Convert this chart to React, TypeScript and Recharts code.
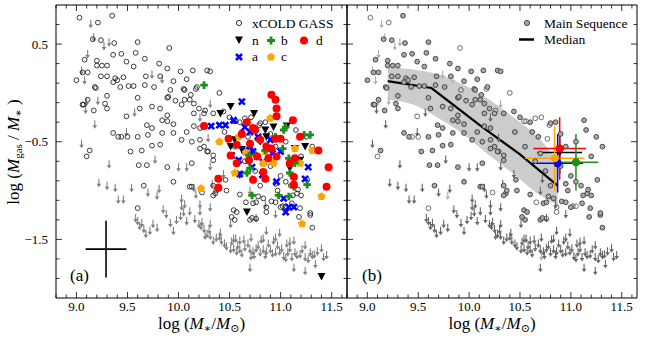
import { ComposedChart, Scatter, XAxis, YAxis, Area, Line, ErrorBar } from "recharts";

const SERIF = '"Liberation Serif", "DejaVu Serif", serif';

const X_DOMAIN: [number, number] = [8.8, 11.65];
const Y_DOMAIN: [number, number] = [-2.1, 0.9];
const X_TICKS = [
  8.8, 8.9, 9.0, 9.1, 9.2, 9.3, 9.4, 9.5, 9.6, 9.7, 9.8, 9.9, 10.0, 10.1, 10.2, 10.3, 10.4,
  10.5, 10.6, 10.7, 10.8, 10.9, 11.0, 11.1, 11.2, 11.3, 11.4, 11.5, 11.6,
];
const X_LABELED = [9.0, 9.5, 10.0, 10.5, 11.0, 11.5];
const Y_TICKS = [0.7, 0.5, 0.3, 0.1, -0.1, -0.3, -0.5, -0.7, -0.9, -1.1, -1.3, -1.5, -1.7, -1.9];
const Y_LABELED = [0.5, -0.5, -1.5];

// xCOLD GASS detections on the main sequence (filled in panel b)
const gassMS: [number, number][] = [
  [9.35, 0.79], [9.16, 0.55], [9.24, 0.54], [9.37, 0.51], [9.6, 0.52],
  [9.08, 0.34], [9.2, 0.33], [9.36, 0.39], [9.44, 0.4], [9.58, 0.41], [9.67, 0.35], [9.49, 0.32],
  [9.56, 0.27], [9.81, 0.3], [9.89, 0.25], [10.02, 0.22], [10.14, 0.23], [10.28, 0.23], [10.31, 0.22],
  [9.0, 0.13], [9.06, 0.21], [9.11, 0.21], [9.2, 0.28], [9.25, 0.28], [9.3, 0.28], [9.24, 0.17],
  [9.3, 0.17], [9.38, 0.15], [9.4, 0.13], [9.46, 0.16], [9.36, 0.11], [9.43, 0.06], [9.51, 0.07],
  [9.56, 0.07], [9.67, 0.08], [9.68, 0.17], [9.76, 0.06], [9.82, 0.17], [10.05, 0.04], [10.06, 0.03],
  [10.08, 0.14], [9.95, 0.12], [9.18, 0.06], [9.19, 0.05],
  [9.06, -0.12], [9.07, -0.12], [9.11, -0.07], [9.3, -0.03], [9.17, -0.18], [9.28, -0.11], [9.3, -0.16],
  [9.6, -0.05], [9.62, -0.16], [9.74, -0.14], [9.82, -0.16], [9.89, -0.05], [9.9, -0.04], [9.97, -0.08],
  [10.03, -0.12], [10.06, -0.07], [10.11, -0.07], [10.12, -0.02], [10.15, -0.11], [10.15, -0.21],
  [10.2, -0.16], [10.25, -0.21],
  [9.36, -0.41], [9.41, -0.45], [9.6, -0.45], [9.69, -0.33], [9.74, -0.36], [9.7, -0.43], [9.84, -0.28],
  [9.89, -0.29], [9.89, -0.23], [9.95, -0.32], [9.84, -0.41], [9.95, -0.41], [10.15, -0.34], [10.08, -0.4],
  [10.03, -0.48], [9.82, -0.53], [9.74, -0.54], [9.64, -0.59], [9.53, -0.6], [10.21, -0.36], [10.21, -0.48],
  [10.25, -0.55], [10.29, -0.6], [10.34, -0.64], [9.13, -0.59], [9.61, -0.74], [9.69, -0.74], [9.89, -0.76],
  [10.13, -0.72],
  [9.66, -0.95], [9.95, -0.91], [10.11, -0.96], [10.13, -0.96], [10.34, -0.95], [10.36, -1.03], [10.37, -1.0],
  [10.54, -1.2], [10.55, -1.3], [10.7, -1.3], [10.72, -1.28], [10.73, -1.13], [10.76, -1.12], [10.47, -1.0],
  [10.6, -1.04], [10.83, -1.08], [10.91, -1.11], [10.95, -0.93], [11.05, -0.91], [11.16, -1.03],
  [11.18, -1.27], [11.29, -1.25], [11.31, -1.38], [11.11, -1.13], [11.19, -1.18],
  [10.18, 0.06], [10.44, -0.19], [10.34, -0.21], [10.13, -0.5], [10.21, -0.57], [10.28, -0.6], [10.34, -0.69],
  [10.46, -0.89], [10.34, -1.05], [10.52, -1.27], [10.78, -1.06], [10.8, -0.31], [11.13, -0.28], [11.15, -0.38],
  [11.31, -0.55], [11.26, -0.89], [11.29, -1.23], [11.0, -1.17], [10.57, -1.22],
  [10.6, -0.3], [10.62, -0.4], [10.68, -0.45], [10.85, -0.3], [10.9, -0.42], [10.95, -0.55], [11.05, -0.5],
  [10.55, -0.55], [10.65, -0.7], [10.75, -0.8], [10.9, -0.75], [11.0, -0.85], [11.1, -0.95], [10.8, -0.95],
  [10.7, -0.62], [11.2, -0.65], [11.25, -0.45], [10.45, -0.4], [10.5, -0.25], [11.17, -0.99], [11.2, -1.05],
  [11.12, -1.05], [10.95, -1.12], [10.97, -1.0],
];

// xCOLD GASS detections off the main sequence (open in panel b)
const gassOther: [number, number][] = [
  [9.03, 0.77], [9.21, 0.72], [9.91, 0.46], [9.92, 0.03], [10.17, 0.04], [10.4, 0.0], [9.49, -0.24],
  [9.44, -0.45], [9.5, -0.45], [10.26, -0.18], [10.54, -0.29], [10.56, -0.29], [10.65, -0.26],
  [10.71, -0.25], [10.79, -0.33], [10.77, -0.47], [9.1, -0.65], [9.6, -1.18], [10.23, -1.02],
  [10.66, -1.12], [10.86, -1.17], [10.86, -1.22], [10.76, -1.29], [11.02, -1.16], [11.05, -1.16],
];

// upper limits (arrows), main sequence
const limMS: [number, number][] = [
  [9.09, -0.13], [9.18, -0.28], [9.05, -0.48], [9.32, -0.69], [9.57, -0.16], [9.49, -0.36], [9.77, -0.64],
  [10.21, -0.21], [10.29, -0.42], [10.0, -0.72], [10.08, -0.72], [10.31, -0.71],
  [9.22, -0.88], [9.3, -0.91], [9.38, -0.93], [9.54, -0.93], [9.41, -1.05], [9.46, -1.05], [9.81, -0.94],
  [9.7, -0.98], [9.62, -1.32], [9.66, -1.35], [9.72, -1.37], [9.6, -1.27], [9.79, -1.34], [9.85, -1.15],
  [9.92, -1.29], [9.95, -1.37], [10.02, -1.22], [10.03, -1.12], [10.06, -1.1], [10.11, -1.17], [10.15, -0.93],
  [10.2, -1.3], [10.23, -1.28], [10.25, -1.35], [10.31, -1.3], [10.31, -1.42], [10.37, -1.44], [10.42, -1.47],
  [10.47, -1.53], [10.51, -1.56], [10.54, -1.55], [10.57, -1.58], [10.6, -1.56], [10.65, -1.54], [10.7, -1.56],
  [10.73, -1.58], [10.76, -1.55], [10.8, -1.59], [10.83, -1.56], [10.86, -1.58], [10.9, -1.56], [10.95, -1.59],
  [10.99, -1.58], [11.03, -1.63], [11.07, -1.59], [11.11, -1.64], [11.14, -1.59], [11.19, -1.61],
  [11.24, -1.64], [11.29, -1.59], [11.34, -1.71], [11.42, -1.64], [10.7, -1.75], [11.13, -1.75],
  [11.24, -1.78], [11.33, -1.61], [10.28, -1.4], [10.34, -1.47], [10.54, -1.45], [10.6, -1.47], [10.71, -1.44],
  [10.83, -1.45], [10.93, -1.47], [11.09, -1.48], [10.41, -1.39], [10.03, -1.04], [10.08, -1.27],
  [10.21, -1.17], [10.51, -1.3], [10.76, -1.24], [10.86, -1.37], [10.99, -1.39], [10.21, -1.1], [10.31, -1.13],
  [10.33, -0.89], [10.17, -1.0], [10.7, -0.96], [10.44, -0.79], [10.85, -1.1], [10.95, -1.2], [10.72, -0.84],
  [10.45, -1.5], [10.52, -1.48], [10.58, -1.52], [10.62, -1.6], [10.68, -1.5], [10.74, -1.62], [10.78, -1.52],
  [10.85, -1.62], [10.88, -1.5], [10.92, -1.6], [10.97, -1.52], [11.01, -1.55], [11.05, -1.65], [11.09, -1.55],
  [11.16, -1.62], [11.21, -1.56], [11.27, -1.66], [11.31, -1.62], [11.36, -1.58], [10.4, -1.43], [10.3, -1.36],
  [10.22, -1.32], [10.16, -1.25], [10.05, -1.18], [9.98, -1.26], [9.88, -1.2], [9.64, -1.29], [9.58, -1.24],
  [9.68, -1.4], [9.75, -1.3], [10.26, -1.42], [10.56, -1.45], [10.64, -1.46], [10.81, -1.46], [10.95, -1.44],
  [11.06, -1.5], [11.13, -1.47], [11.24, -1.52], [11.4, -1.55], [11.45, -1.62],
];

// upper limits, off the main sequence
const limOther: [number, number][] = [
  [9.14, 0.75], [9.17, 0.61], [9.27, 0.52], [9.32, 0.56], [9.11, 0.44], [9.05, 0.27], [9.08, 0.17],
  [9.74, 0.23], [9.84, 0.18], [9.1, -0.05], [9.21, -0.04], [9.79, -1.01], [10.71, -1.63], [10.31, -0.07],
];

// subsamples
const subN: [number, number][] = [
  [10.51, -0.14], [10.41, -0.21], [10.74, -0.21], [10.93, -0.35], [11.06, -0.34], [10.85, -0.38],
  [10.51, -0.55], [11.14, -0.57], [11.24, -0.55], [11.19, -0.69], [10.55, -0.48], [10.8, -0.5],
  [10.6, -0.84], [11.09, -0.77], [10.67, -1.22], [11.4, -1.88], [10.62, -0.58], [10.86, -0.45],
];
const subA: [number, number][] = [
  [10.62, -0.09], [10.54, -0.28], [10.4, -0.33], [10.32, -0.34], [10.65, -0.35], [10.46, -0.33],
  [10.7, -0.4], [10.9, -0.48], [10.65, -0.59], [10.73, -0.6], [10.59, -0.69], [11.0, -0.6], [10.72, -0.76],
  [10.83, -0.71], [11.27, -0.76], [11.24, -0.88], [10.96, -0.91], [11.03, -1.08], [11.08, -1.17],
  [11.13, -1.17], [10.7, -0.55], [10.52, -0.64], [10.82, -0.84], [10.92, -0.62], [11.05, -1.22],
  [10.6, -0.83], [10.78, -0.45],
];
const subB: [number, number][] = [
  [10.25, 0.08], [11.05, -0.35], [11.23, -0.43], [11.29, -0.43], [11.02, -0.57], [10.69, -0.64],
  [10.85, -0.59], [11.03, -0.38], [11.08, -0.67], [11.14, -0.72], [11.09, -0.82], [10.7, -0.77],
  [10.67, -0.82], [11.13, -0.96], [11.26, -0.94], [10.72, -1.05], [10.98, -1.05], [11.08, -1.06],
  [10.76, -0.64], [11.12, -0.94], [10.95, -0.45],
];
const subC: [number, number][] = [
  [10.4, -0.5], [10.59, -0.45], [11.31, -0.59], [10.9, -0.26], [10.66, -0.61], [10.83, -0.72],
  [10.93, -0.72], [10.55, -0.82], [10.85, -0.6], [11.14, -0.57], [11.19, -0.72], [11.4, -1.06],
  [10.22, -0.98], [11.21, -1.34],
];
const subD: [number, number][] = [
  [10.91, -0.02], [10.95, -0.07], [10.96, -0.16], [10.96, -0.24], [11.12, -0.28], [10.25, -0.34],
  [10.67, -0.3], [10.73, -0.36], [10.49, -0.47], [10.57, -0.53], [10.8, -0.48], [11.37, -0.59],
  [11.47, -0.76], [10.75, -0.38], [10.7, -0.52], [10.86, -0.55], [10.91, -0.57], [10.95, -0.47],
  [11.0, -0.47], [11.19, -0.45], [11.45, -0.96], [10.39, -0.88], [10.51, -0.64], [10.57, -0.72],
  [10.77, -0.65], [10.69, -0.69], [10.88, -0.67], [10.96, -0.65], [11.13, -0.86], [11.14, -0.67],
  [10.73, -0.89], [11.09, -0.72], [10.39, -0.97], [11.13, -0.94], [10.83, -0.81], [10.62, -0.42],
  [10.85, -0.88],
];

// typical uncertainty, panel (a)
const typicalErr = [{ x: 9.29, y: -1.6, ex: 0.2, ey: 0.29 }];

// panel (b): median of the main sequence and its spread
const medianX = [9.2, 9.63, 10.13, 10.5, 10.87];
const medianY = [0.12, 0.05, -0.35, -0.63, -0.95];
const bandX = [9.2, 9.45, 9.7, 9.95, 10.2, 10.45, 10.7, 10.87];
const bandHi = [0.26, 0.24, 0.19, 0.08, -0.07, -0.26, -0.48, -0.7];
const bandLo = [-0.07, -0.12, -0.26, -0.43, -0.64, -0.84, -1.05, -1.15];

// panel (b): subsample medians with spread
const binNames = ["n", "a", "c", "d", "b"];
const binX = [10.89, 10.87, 10.84, 10.89, 11.05];
const binY = [-0.61, -0.72, -0.67, -0.57, -0.71];
const binEx = [0.22, 0.25, 0.29, 0.26, 0.22];
const binEy = [0.22, 0.3, 0.33, 0.32, 0.29];

const COLORS: Record<string, string> = {
  n: "#000000",
  a: "#0000ff",
  b: "#1a8f1a",
  c: "#ffa500",
  d: "#ff0000",
};

const pts = (arr: [number, number][]) => arr.map(([x, y]) => ({ x, y }));
const fmt = (v: number) => v.toFixed(1).replace("-", "\u2212");
const inList = (v: number, list: number[]) => list.some((l) => Math.abs(l - v) < 1e-6);

function pentagon(cx: number, cy: number, r: number) {
  let d = "";
  for (let i = 0; i < 5; i++) {
    const a = -Math.PI / 2 + (i * 2 * Math.PI) / 5;
    d += (i ? "L" : "M") + (cx + r * Math.cos(a)).toFixed(2) + "," + (cy + r * Math.sin(a)).toFixed(2);
  }
  return d + "Z";
}

const OpenDot = (p: any) => (
  <circle cx={p.cx} cy={p.cy} r={2.4} fill="none" stroke="#1a1a1a" strokeWidth={0.85} />
);
const GrayDot = (p: any) => (
  <circle cx={p.cx} cy={p.cy} r={2.4} fill="#a8a8a8" stroke="#3a3a3a" strokeWidth={0.9} />
);
const LightDot = (p: any) => (
  <circle cx={p.cx} cy={p.cy} r={2.4} fill="none" stroke="#555" strokeWidth={0.85} />
);
const arrowShape = (color: string) => (p: any) => (
  <g>
    <line x1={p.cx} x2={p.cx} y1={p.cy} y2={p.cy + 6} stroke={color} strokeWidth={1.1} />
    <path d={`M${p.cx - 2.3},${p.cy + 5}L${p.cx + 2.3},${p.cy + 5}L${p.cx},${p.cy + 8.5}Z`} fill={color} />
  </g>
);
const Tri = (p: any) => (
  <path d={`M${p.cx - 4},${p.cy - 3.5}L${p.cx + 4},${p.cy - 3.5}L${p.cx},${p.cy + 4}Z`} fill="#000" />
);
const Cross = (p: any) => (
  <path
    d={`M${p.cx - 3},${p.cy - 3}L${p.cx + 3},${p.cy + 3}M${p.cx + 3},${p.cy - 3}L${p.cx - 3},${p.cy + 3}`}
    stroke={COLORS.a}
    strokeWidth={2.6}
  />
);
const Plus = (p: any) => (
  <path
    d={`M${p.cx - 3.8},${p.cy}H${p.cx + 3.8}M${p.cx},${p.cy - 3.8}V${p.cy + 3.8}`}
    stroke={COLORS.b}
    strokeWidth={2.8}
  />
);
const Pent = (p: any) => <path d={pentagon(p.cx, p.cy, 4.3)} fill={COLORS.c} />;
const RedDot = (p: any) => <circle cx={p.cx} cy={p.cy} r={4} fill={COLORS.d} />;
const NoMark = () => <g />;

function BottomTick({ x, y, payload }: any) {
  const major = inList(payload.value, X_LABELED);
  return (
    <g>
      <line x1={x} x2={x} y1={y} y2={y - (major ? 6 : 3.5)} stroke="#000" strokeWidth={0.8} />
      {major && (
        <text x={x} y={y + 13} textAnchor="middle" fontSize={13} fontFamily={SERIF} fill="#000">
          {fmt(payload.value)}
        </text>
      )}
    </g>
  );
}
function TopTick({ x, y, payload }: any) {
  const major = inList(payload.value, X_LABELED);
  return <line x1={x} x2={x} y1={y} y2={y + (major ? 6 : 3.5)} stroke="#000" strokeWidth={0.8} />;
}
const leftTick = (labels: boolean) => ({ x, y, payload }: any) => {
  const major = inList(payload.value, Y_LABELED);
  return (
    <g>
      <line x1={x} x2={x + (major ? 6 : 3.5)} y1={y} y2={y} stroke="#000" strokeWidth={0.8} />
      {labels && major && (
        <text x={x - 8} y={y + 4.5} textAnchor="end" fontSize={13} fontFamily={SERIF} fill="#000">
          {fmt(payload.value)}
        </text>
      )}
    </g>
  );
};
function RightTick({ x, y, payload }: any) {
  const major = inList(payload.value, Y_LABELED);
  return <line x1={x} x2={x - (major ? 6 : 3.5)} y1={y} y2={y} stroke="#000" strokeWidth={0.8} />;
}

function Frame({ leftLabels }: { leftLabels: boolean }) {
  const axisLine = { stroke: "#000", strokeWidth: 1 };
  return [
    <XAxis
      key="xb"
      xAxisId="b"
      type="number"
      dataKey="x"
      domain={X_DOMAIN}
      ticks={X_TICKS}
      interval={0}
      allowDataOverflow
      height={42}
      tickSize={0}
      tickMargin={0}
      tickLine={false}
      axisLine={axisLine}
      tick={BottomTick}
    />,
    <XAxis
      key="xt"
      xAxisId="t"
      orientation="top"
      type="number"
      dataKey="x"
      domain={X_DOMAIN}
      ticks={X_TICKS}
      interval={0}
      allowDataOverflow
      height={1}
      tickSize={0}
      tickMargin={0}
      tickLine={false}
      axisLine={axisLine}
      tick={TopTick}
    />,
    <YAxis
      key="yl"
      yAxisId="l"
      type="number"
      dataKey="y"
      domain={Y_DOMAIN}
      ticks={Y_TICKS}
      interval={0}
      allowDataOverflow
      width={leftLabels ? 56 : 50}
      tickSize={0}
      tickMargin={0}
      tickLine={false}
      axisLine={axisLine}
      tick={leftTick(leftLabels)}
    />,
    <YAxis
      key="yr"
      yAxisId="r"
      orientation="right"
      type="number"
      dataKey="y"
      domain={Y_DOMAIN}
      ticks={Y_TICKS}
      interval={0}
      allowDataOverflow
      width={1}
      tickSize={0}
      tickMargin={0}
      tickLine={false}
      axisLine={axisLine}
      tick={RightTick}
    />,
  ];
}

const sc = { xAxisId: "b", yAxisId: "l", isAnimationActive: false };

function PanelA() {
  const allGass = pts([...gassMS, ...gassOther]);
  const allLim = pts([...limMS, ...limOther]);
  return (
    <ComposedChart width={351} height={340} margin={{ top: 4, right: 3, bottom: 0, left: 0 }}>
      {Frame({ leftLabels: true })}
      <Scatter {...sc} data={allLim} shape={arrowShape("#808080")} />
      <Scatter {...sc} data={allGass} shape={OpenDot} />
      <Scatter {...sc} data={pts(subN)} shape={Tri} />
      <Scatter {...sc} data={pts(subA)} shape={Cross} />
      <Scatter {...sc} data={pts(subC)} shape={Pent} />
      <Scatter {...sc} data={pts(subB)} shape={Plus} />
      <Scatter {...sc} data={pts(subD)} shape={RedDot} />
      <Scatter {...sc} data={typicalErr} shape={NoMark}>
        <ErrorBar dataKey="ex" direction="x" width={0} stroke="#000" strokeWidth={1.6} />
        <ErrorBar dataKey="ey" direction="y" width={0} stroke="#000" strokeWidth={1.6} />
      </Scatter>
    </ComposedChart>
  );
}

function PanelB() {
  const band = bandX.map((x, i) => ({ x, range: [bandLo[i], bandHi[i]] }));
  const median = medianX.map((x, i) => ({ x, y: medianY[i] }));
  return (
    <ComposedChart width={344} height={340} margin={{ top: 4, right: 3, bottom: 0, left: 0 }}>
      {Frame({ leftLabels: false })}
      <Area
        {...sc}
        data={band}
        dataKey="range"
        type="monotone"
        fill="#cccccc"
        fillOpacity={1}
        stroke="none"
      />
      <Scatter {...sc} data={pts(limOther)} shape={arrowShape("#b0b0b0")} />
      <Scatter {...sc} data={pts(limMS)} shape={arrowShape("#666666")} />
      <Scatter {...sc} data={pts(gassOther)} shape={LightDot} />
      <Scatter {...sc} data={pts(gassMS)} shape={GrayDot} />
      <Line {...sc} data={median} dataKey="y" type="linear" stroke="#000" strokeWidth={2.2} dot={false} />
      {binNames.map((n, i) => (
        <Scatter
          key={n}
          {...sc}
          data={[{ x: binX[i], y: binY[i], ex: binEx[i], ey: binEy[i] }]}
          shape={(p: any) =>
            n === "n" ? (
              <path d={`M${p.cx - 4},${p.cy - 3.5}L${p.cx + 4},${p.cy - 3.5}L${p.cx},${p.cy + 4}Z`} fill="#000" />
            ) : (
              <circle cx={p.cx} cy={p.cy} r={4} fill={COLORS[n]} />
            )
          }
        >
          <ErrorBar dataKey="ex" direction="x" width={0} stroke={COLORS[n]} strokeWidth={1.5} />
          <ErrorBar dataKey="ey" direction="y" width={0} stroke={COLORS[n]} strokeWidth={1.5} />
        </Scatter>
      ))}
    </ComposedChart>
  );
}

function Overlay() {
  const t = { fontFamily: SERIF, fill: "#000" };
  return (
    <svg width={645} height={340} style={{ position: "absolute", left: 0, top: 0, pointerEvents: "none" }}>
      {/* legend (a) */}
      <circle cx={239} cy={23} r={2.6} fill="none" stroke="#1a1a1a" strokeWidth={0.9} />
      <text x={252} y={28} fontSize={13.5} {...t}>xCOLD GASS</text>
      <path d="M235,36.5L243,36.5L239,44Z" fill="#000" />
      <text x={252} y={44.5} fontSize={13.5} {...t}>n</text>
      <path d="M267,40.5H275M271,36.5V44.5" stroke={COLORS.b} strokeWidth={2.8} />
      <text x={281} y={44.5} fontSize={13.5} {...t}>b</text>
      <circle cx={304} cy={40.5} r={4} fill={COLORS.d} />
      <text x={316} y={44.5} fontSize={13.5} {...t}>d</text>
      <path d="M236,54L242,60M242,54L236,60" stroke={COLORS.a} strokeWidth={2.6} />
      <text x={252} y={61} fontSize={13.5} {...t}>a</text>
      <path d={pentagon(271, 57, 4.3)} fill={COLORS.c} />
      <text x={281} y={61} fontSize={13.5} {...t}>c</text>
      <text x={70} y={281} fontSize={17} {...t}>(a)</text>

      {/* legend (b) */}
      <circle cx={527} cy={23} r={2.6} fill="#a8a8a8" stroke="#3a3a3a" strokeWidth={0.9} />
      <text x={544} y={28} fontSize={13.5} {...t}>Main Sequence</text>
      <line x1={519} x2={534} y1={39.5} y2={39.5} stroke="#000" strokeWidth={2.5} />
      <text x={544} y={44} fontSize={13.5} {...t}>Median</text>
      <text x={362} y={281} fontSize={17} {...t}>(b)</text>

      {/* axis titles */}
      <text x={19} y={152} fontSize={17} textAnchor="middle" transform="rotate(-90 19 152)" {...t}>
        <tspan>log (</tspan>
        <tspan fontStyle="italic">M</tspan>
        <tspan fontSize={11} dy={3}>gas</tspan>
        <tspan dy={-3}> / </tspan>
        <tspan fontStyle="italic">M</tspan>
        <tspan fontSize={11} dy={3}>∗</tspan>
        <tspan dy={-3}> )</tspan>
      </text>
      {[201.5, 492].map((cx) => (
        <text key={cx} x={cx} y={329} fontSize={17} textAnchor="middle" {...t}>
          <tspan>log (</tspan>
          <tspan fontStyle="italic">M</tspan>
          <tspan fontSize={11} dy={3}>∗</tspan>
          <tspan dy={-3}>/</tspan>
          <tspan fontStyle="italic">M</tspan>
          <tspan fontSize={11} dy={3}>⊙</tspan>
          <tspan dy={-3}>)</tspan>
        </text>
      ))}
    </svg>
  );
}

export default function App() {
  return (
    <div style={{ position: "absolute", left: 0, top: 0, width: 645, height: 340, background: "#fff" }}>
      <div style={{ position: "absolute", left: 0, top: 0 }}>
        <PanelA />
      </div>
      <div style={{ position: "absolute", left: 297, top: 0 }}>
        <PanelB />
      </div>
      <Overlay />
    </div>
  );
}
